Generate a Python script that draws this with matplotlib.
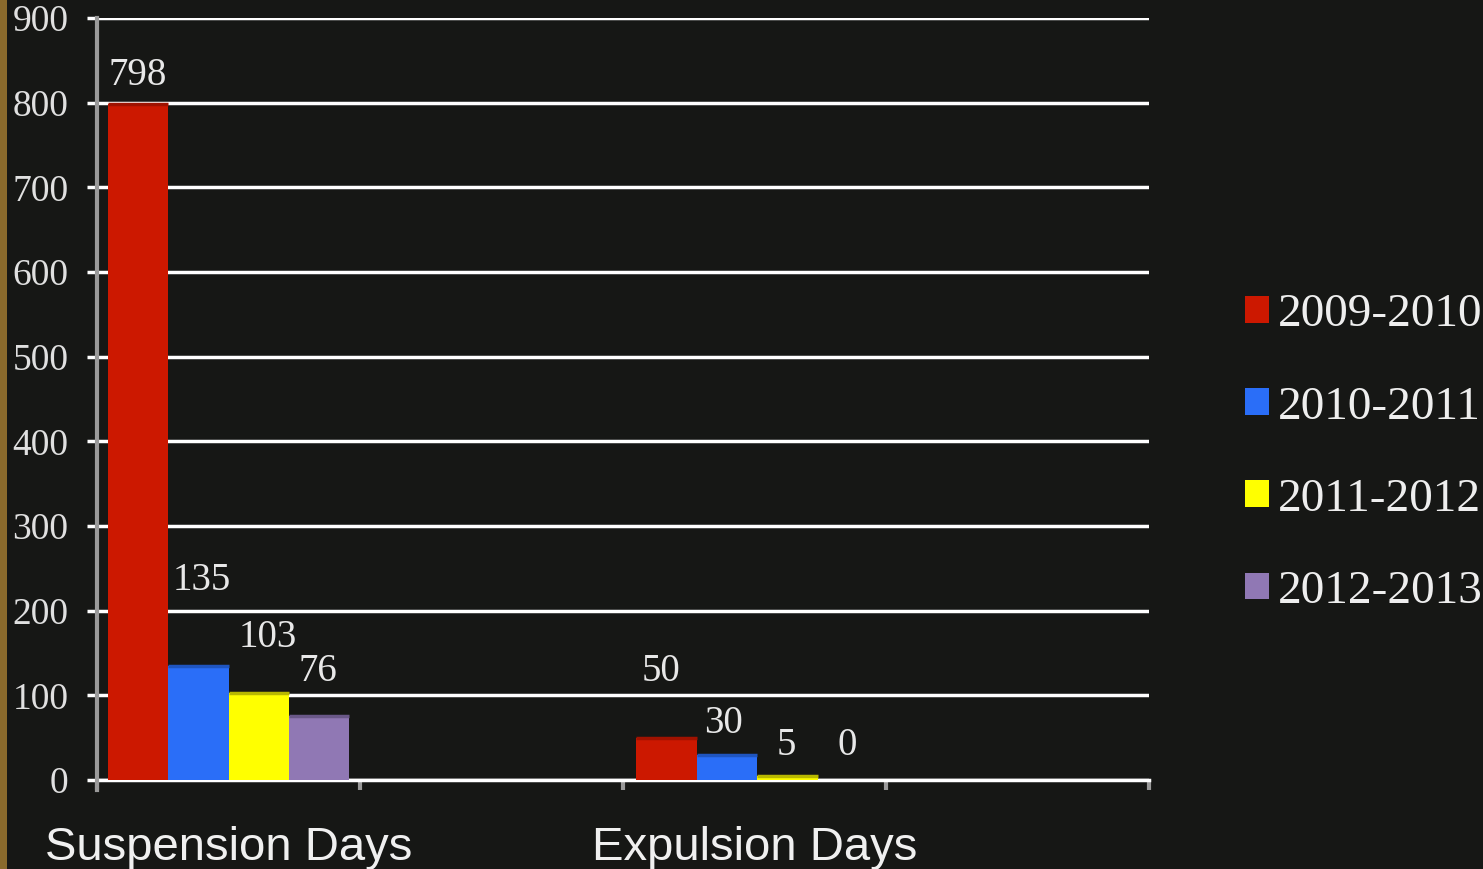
import numpy as np
import matplotlib
matplotlib.use("Agg")
import matplotlib.pyplot as plt
from matplotlib.patches import Rectangle, Patch

# --- data ---
categories = ["Suspension Days", "", "Expulsion Days", ""]
years = ["2009-2010", "2010-2011", "2011-2012", "2012-2013"]
days_2009_2010 = [798, None, 50, None]
days_2010_2011 = [135, None, 30, None]
days_2011_2012 = [103, None, 5, None]
days_2012_2013 = [76, None, 0, None]
series = [days_2009_2010, days_2010_2011, days_2011_2012, days_2012_2013]

colors = ["#cc1800", "#2a6ef8", "#ffff00", "#9078b4"]
top_colors = ["#a01200", "#1f55c0", "#b8b800", "#6a5888"]
# label offsets (pixels) above each bar, as in the original slide
label_offsets = [
    [(0, 19), None, (-5, 57), None],
    [(3, 76), None, (-3, 22), None],
    [(9, 46), None, (-1, 21), None],
    [(-1, 35), None, (-1, 25), None],
]

bg = "#161715"
serif = ["Liberation Serif", "DejaVu Serif"]
sans = ["Liberation Sans", "DejaVu Sans"]

fig = plt.figure(figsize=(14.83, 8.69), dpi=100, facecolor=bg)
fig.patches.append(Rectangle((0, 0), 7 / 1483, 1, transform=fig.transFigure,
                             facecolor="#8a6a2c", edgecolor="none", zorder=0))
ax = fig.add_axes([97 / 1483, 89 / 869, 1052 / 1483, 762 / 869])
ax.set_facecolor(bg)

bar_w = 0.23
start = 0.04
for j, (vals, col) in enumerate(zip(series, colors)):
    for i, v in enumerate(vals):
        if v is None:
            continue
        x = i + start + j * bar_w + (0.01 if i > 0 else 0)
        ax.bar(x, v, width=bar_w, align="edge", color=col, edgecolor="none", zorder=3)
        if v > 0:
            ax.plot([x, x + bar_w], [v, v], color=top_colors[j], linewidth=2.5,
                    solid_capstyle="butt", zorder=3.5)
        dx, dy = label_offsets[j][i]
        ax.annotate(str(v), xy=(x + bar_w / 2, v), xytext=(dx, dy),
                    textcoords="offset pixels", ha="center", va="baseline",
                    color="#e8e8e8", fontsize=28, family=serif, zorder=4)

ax.set_xlim(0, len(categories))
ax.set_ylim(0, 900)
ax.set_yticks(np.arange(0, 901, 100))
ax.grid(axis="y", color="white", linewidth=2.5, zorder=1)
ax.set_axisbelow(True)

for side in ["top", "right", "bottom"]:
    ax.spines[side].set_visible(False)
ax.spines["left"].set_color("#9a9a9a")
ax.spines["left"].set_linewidth(3)
ax.spines["left"].set_bounds(-12, 900)
ax.spines["left"].set_zorder(2)

ax.tick_params(axis="y", direction="out", length=7.5, width=2.5, color="white",
               pad=13, labelcolor="#e0e0e0", labelsize=27)
for lab in ax.get_yticklabels():
    lab.set_family(serif)

ax.set_xticks(np.arange(0, len(categories) + 1))
ax.set_xticklabels([])
ax.tick_params(axis="x", which="major", direction="out", length=7.5, width=3,
               color="#9a9a9a")
ax.set_xticks(np.arange(len(categories)) + 0.5, minor=True)
ax.set_xticklabels(categories, minor=True)
ax.tick_params(axis="x", which="minor", length=0, pad=33, labelsize=34,
               labelcolor="#f0f0f0")
for lab in ax.get_xticklabels(minor=True):
    lab.set_family(sans)
ax.axhline(0, color="white", linewidth=2.5, zorder=2, clip_on=False)

handles = [Patch(facecolor=c, edgecolor="none") for c in colors]
leg = fig.legend(handles, years, loc="upper left", bbox_to_anchor=(1245 / 1483, 1 - 294 / 869),
                 frameon=False, handlelength=0.5, handleheight=0.5, handletextpad=0.2,
                 labelspacing=1.05, borderaxespad=0, borderpad=0,
                 prop={"family": serif, "size": 34})
for t in leg.get_texts():
    t.set_color("#eeeeee")

fig.savefig("out.png", dpi=100, facecolor=bg)
